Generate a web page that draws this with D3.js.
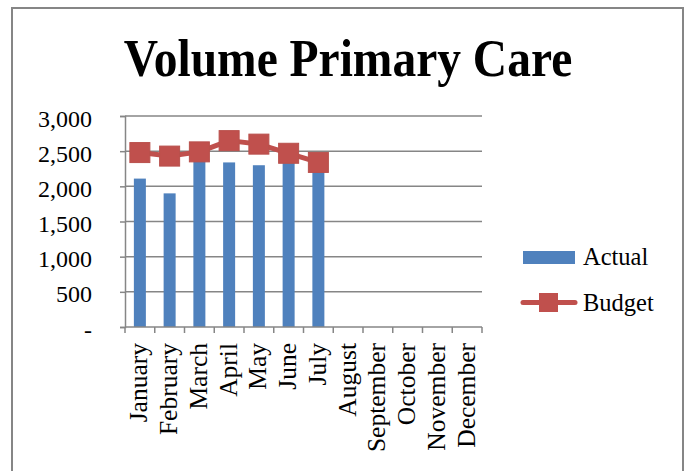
<!DOCTYPE html>
<html><head><meta charset="utf-8">
<script src="https://cdn.jsdelivr.net/npm/d3@7"></script>
<style>body{margin:0;background:#fff;} svg{display:block;}</style>
</head><body>
<script>
const months = ["January","February","March","April","May","June","July","August","September","October","November","December"];
const actual = [2110, 1900, 2400, 2340, 2300, 2350, 2250];
const budget = [2480, 2430, 2490, 2650, 2600, 2470, 2340];
const yTicks = [0, 500, 1000, 1500, 2000, 2500, 3000];
const title = "Volume Primary Care";
const seriesNames = ["Actual", "Budget"];

const W = 690, H = 471;
const blue = "#4F81BD", red = "#C0504D", grid = "#868686";
const font = "'Liberation Serif','Times New Roman',serif";

const svg = d3.select("body").append("svg").attr("width", W).attr("height", H);
svg.append("rect").attr("width", W).attr("height", H).attr("fill", "#fff");
svg.append("rect").attr("x", 12).attr("y", 8).attr("width", 671).attr("height", 480)
  .attr("fill", "none").attr("stroke", grid).attr("stroke-width", 2);

svg.append("text").attr("transform", "translate(348,76) scale(1,1.1)").attr("text-anchor", "middle")
  .attr("font-family", font).attr("font-weight", "bold").attr("font-size", 47.5)
  .text(title);

const x = d3.scaleBand().domain(months).range([125, 482]);
const y = d3.scaleLinear().domain([0, 3000]).range([327, 116]);

// gridlines
svg.append("g").selectAll("line").data(yTicks.filter(d => d > 0)).join("line")
  .attr("x1", 125).attr("x2", 482).attr("y1", d => y(d)).attr("y2", d => y(d))
  .attr("stroke", grid).attr("stroke-width", 1.5);

// y axis
const yAxis = d3.axisLeft(y).tickValues(yTicks).tickSize(5).tickPadding(28)
  .tickFormat(d => d === 0 ? "-" : d3.format(",")(d));
const yg = svg.append("g").attr("transform", "translate(125,0)").call(yAxis);
yg.select(".domain").attr("stroke", grid).attr("stroke-width", 1.5);
yg.selectAll(".tick line").attr("stroke", grid).attr("stroke-width", 1.5);
yg.selectAll(".tick text").attr("font-family", font).attr("font-size", 24).attr("fill", "#000")
  .attr("dy", "0.42em");

// bars
svg.append("g").selectAll("rect").data(actual).join("rect")
  .attr("x", (d, i) => x(months[i]) + x.bandwidth() / 2 - 6)
  .attr("width", 12)
  .attr("y", d => y(d)).attr("height", d => y(0) - y(d))
  .attr("fill", blue);

// x axis
const xg = svg.append("g");
xg.append("line").attr("x1", 125).attr("x2", 482).attr("y1", y(0)).attr("y2", y(0))
  .attr("stroke", grid).attr("stroke-width", 1.5);
const bounds = months.map(m => x(m)).concat([x.range()[1]]);
xg.selectAll("line.tk").data(bounds).join("line").attr("class", "tk")
  .attr("x1", d => d).attr("x2", d => d).attr("y1", y(0)).attr("y2", y(0) + 6)
  .attr("stroke", grid).attr("stroke-width", 1.5);
xg.selectAll("text").data(months).join("text")
  .attr("transform", d => `translate(${x(d) + x.bandwidth() / 2 + 7.5},343) rotate(-90)`)
  .attr("text-anchor", "end").attr("font-family", font).attr("font-size", 25.5)
  .text(d => d);

// budget line
const line = d3.line().x((d, i) => x(months[i]) + x.bandwidth() / 2).y(d => y(d));
svg.append("path").datum(budget).attr("d", line).attr("fill", "none")
  .attr("stroke", red).attr("stroke-width", 5).attr("stroke-linejoin", "round");
svg.append("g").selectAll("rect").data(budget).join("rect")
  .attr("x", (d, i) => x(months[i]) + x.bandwidth() / 2 - 10)
  .attr("y", d => y(d) - 10).attr("width", 20).attr("height", 20)
  .attr("fill", red).attr("stroke", "#B9504C").attr("stroke-width", 1);

// legend
const lg = svg.append("g");
lg.append("rect").attr("x", 523).attr("y", 251).attr("width", 52).attr("height", 13).attr("fill", blue);
lg.append("text").attr("x", 583).attr("y", 265).attr("font-family", font).attr("font-size", 24.5).text(seriesNames[0]);
lg.append("line").attr("x1", 523).attr("x2", 575).attr("y1", 302.5).attr("y2", 302.5)
  .attr("stroke", red).attr("stroke-width", 5).attr("stroke-linecap", "round");
lg.append("rect").attr("x", 539).attr("y", 293).attr("width", 19).attr("height", 19).attr("fill", red);
lg.append("text").attr("x", 583).attr("y", 311).attr("font-family", font).attr("font-size", 24.5).text(seriesNames[1]);
</script>
</body></html>
